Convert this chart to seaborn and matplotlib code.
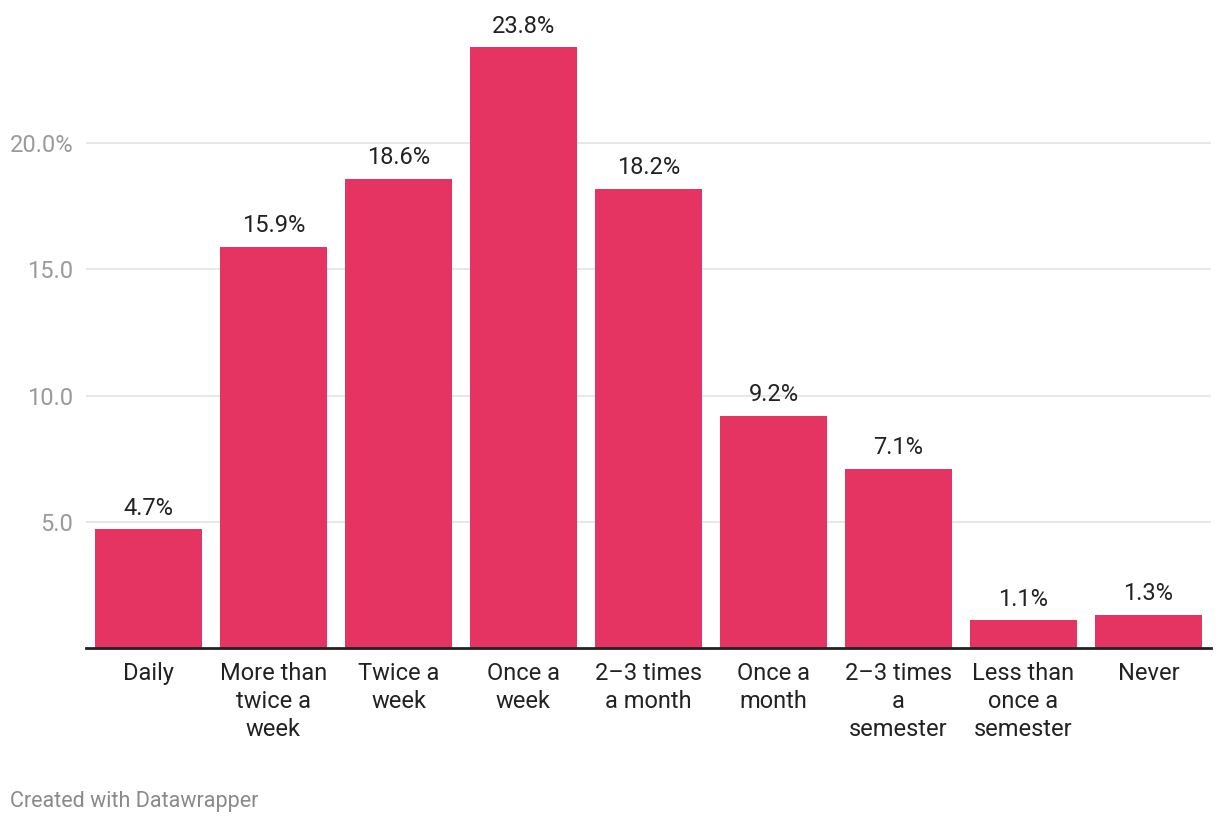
import seaborn as sns
import matplotlib.pyplot as plt
import pandas as pd

categories = ['Daily', 'More than\ntwice a\nweek', 'Twice a\nweek', 'Once a\nweek',
              '2–3 times\na month', 'Once a\nmonth', '2–3 times\na\nsemester',
              'Less than\nonce a\nsemester', 'Never']
values = [4.7, 15.9, 18.6, 23.8, 18.2, 9.2, 7.1, 1.1, 1.3]
yticks = [5, 10, 15, 20]
ytick_labels = ['5.0', '10.0', '15.0', '20.0%']

BAR = '#e63462'
TEXT = '#222222'
GRAY = '#9a9a9a'

sns.set_theme(style='white')
plt.rcParams['font.family'] = ['Roboto', 'DejaVu Sans']

df = pd.DataFrame({'cat': categories, 'val': values})

fig = plt.figure(figsize=(12.2, 8.24), dpi=100)
ax = fig.add_axes([86 / 1220, 1 - 648 / 824, (1211 - 86) / 1220, (648 - 17) / 824])

sns.barplot(data=df, x='cat', y='val', color=BAR, saturation=1, width=0.85,
            linewidth=0, ax=ax, zorder=3)

ax.set_xlim(-0.5, len(categories) - 0.5)
ax.set_ylim(0, 25)
ax.set_yticks(yticks)
ax.set_yticklabels(ytick_labels)
ax.yaxis.grid(True, color='#e3e3e3', linewidth=1.2, zorder=0)
ax.set_axisbelow(True)
for s in ['top', 'right', 'left']:
    ax.spines[s].set_visible(False)
ax.spines['bottom'].set_color(TEXT)
ax.spines['bottom'].set_linewidth(2)
ax.spines['bottom'].set_zorder(5)

ax.tick_params(axis='y', length=0, pad=9, labelsize=17, labelcolor=GRAY)
ax.tick_params(axis='x', length=0, pad=10, labelsize=17, labelcolor=TEXT)
for lbl in ax.get_xticklabels():
    lbl.set_linespacing(1.28)
    lbl.set_verticalalignment('top')

ax.set_xlabel('')
ax.set_ylabel('')

for i, v in enumerate(values):
    ax.annotate(f'{v:.1f}%', (i, v), xytext=(0, 7), textcoords='offset points',
                ha='center', va='bottom', fontsize=17, color=TEXT)

fig.text(10 / 1220, 1 - 802 / 824, 'Created with Datawrapper', fontsize=15.5,
         color='#8a8a8a', ha='left', va='center')

fig.savefig('out.png', dpi=100)
